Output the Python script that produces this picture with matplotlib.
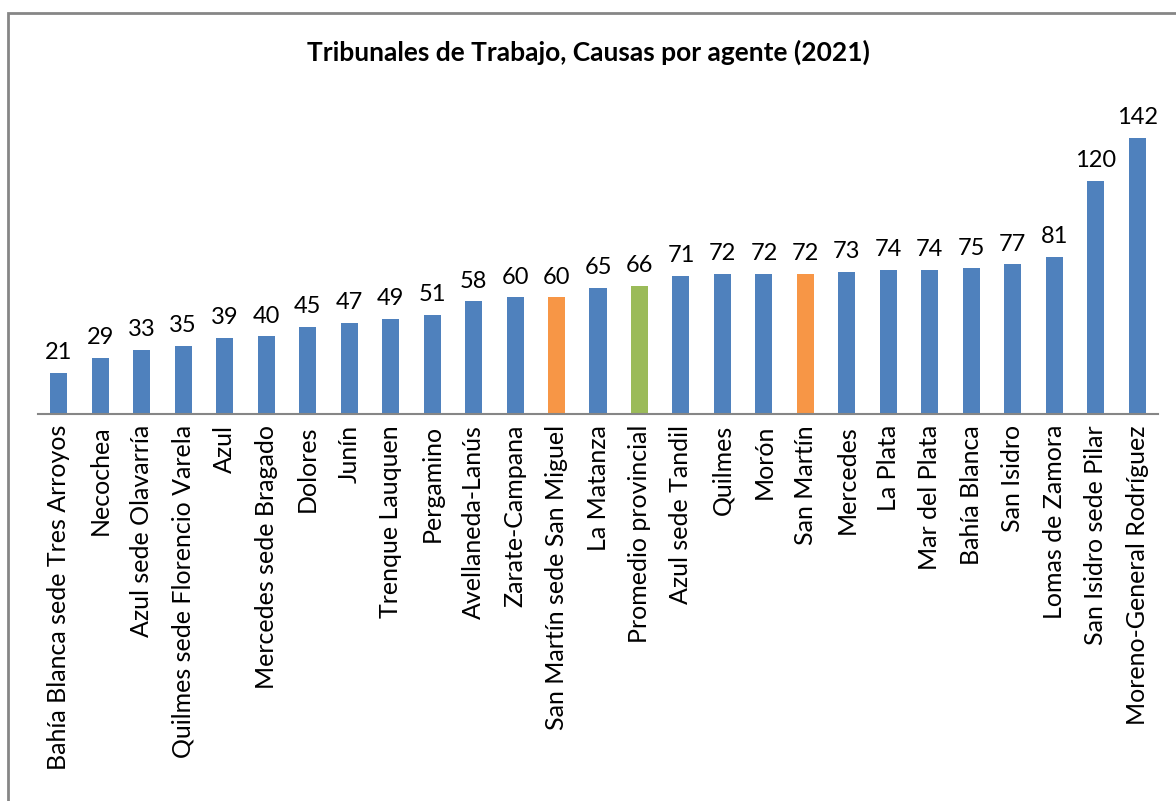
import matplotlib.pyplot as plt
from matplotlib.patches import Rectangle

plt.rcParams['font.family'] = ['Lato', 'DejaVu Sans']

tribunales = ["Bahía Blanca sede Tres Arroyos", "Necochea", "Azul sede Olavarría",
              "Quilmes sede Florencio Varela", "Azul", "Mercedes sede Bragado", "Dolores",
              "Junín", "Trenque Lauquen", "Pergamino", "Avellaneda-Lanús", "Zarate-Campana",
              "San Martín sede San Miguel", "La Matanza", "Promedio provincial",
              "Azul sede Tandil", "Quilmes", "Morón", "San Martín", "Mercedes", "La Plata",
              "Mar del Plata", "Bahía Blanca", "San Isidro", "Lomas de Zamora",
              "San Isidro sede Pilar", "Moreno-General Rodríguez"]
causas = [21, 29, 33, 35, 39, 40, 45, 47, 49, 51, 58, 60, 60, 65, 66, 71, 72, 72, 72,
          73, 74, 74, 75, 77, 81, 120, 142]

azul = "#4f81bd"
naranja = "#f79646"
verde = "#9bbb59"
colores = []
for t in tribunales:
    if t == "Promedio provincial":
        colores.append(verde)
    elif t.startswith("San Martín"):
        colores.append(naranja)
    else:
        colores.append(azul)

fig = plt.figure(figsize=(11.76, 8.01), dpi=100)
# marco gris del gráfico
fig.patches.append(Rectangle((8 / 1176, -0.01), 1.02, 1 - 13 / 801 + 0.01,
                             transform=fig.transFigure, fill=False,
                             edgecolor="#868686", linewidth=2))

ax = fig.add_axes([38 / 1176, 1 - 414 / 801, 1120 / 1176, 311 / 801])
x = range(len(tribunales))
bars = ax.bar(x, causas, width=0.41, color=colores)
for b, v in zip(bars, causas):
    ax.text(b.get_x() + b.get_width() / 2, v + 5, str(v), ha="center", va="bottom",
            fontsize=17)

ax.set_xlim(-0.5, len(tribunales) - 0.5)
ax.set_ylim(0, 160)
ax.set_xticks(list(x))
ax.set_xticklabels(tribunales, rotation=90, fontsize=18)
ax.tick_params(axis="x", length=0, pad=8)
ax.set_yticks([])
for s in ["top", "right", "left"]:
    ax.spines[s].set_visible(False)
ax.spines["bottom"].set_color("#868686")
ax.spines["bottom"].set_linewidth(1.5)

fig.text(0.5, 1 - 52 / 801, "Tribunales de Trabajo, Causas por agente (2021)",
         ha="center", va="center", fontsize=19, fontweight="bold")

fig.savefig("out.png", dpi=100)
